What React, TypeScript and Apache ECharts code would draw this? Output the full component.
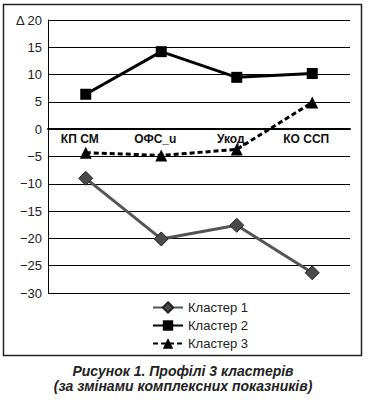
import React, { useEffect, useRef } from "react";
import * as echarts from "echarts";

const categories = ["КП СМ", "ОФС_u", "Укод", "КО ССП"];
const cluster1 = [-9.0, -20.1, -17.6, -26.3];
const cluster2 = [6.4, 14.2, 9.5, 10.2];
const cluster3 = [-4.3, -4.8, -3.7, 4.9];
const seriesNames = ["Кластер 1", "Кластер 2", "Кластер 3"];
const captionLines = ["Рисунок 1. Профілі 3 кластерів", "(за змінами комплексних показників)"];

const FONT = "'Liberation Sans', Arial, sans-serif";
const Y_MIN = -30;
const Y_MAX = 20;
const GRID_TOP = 20;
const GRID_H = 273;

export default function App() {
  const ref = useRef<HTMLDivElement>(null);
  useEffect(() => {
    if (!ref.current) return;
    const chart = echarts.init(ref.current, undefined, { renderer: "svg" });
    const zeroOffset = -(GRID_H * (0 - Y_MIN)) / (Y_MAX - Y_MIN);
    chart.setOption({
      animation: false,
      backgroundColor: "#fff",
      textStyle: { fontFamily: FONT },
      graphic: [
        {
          type: "rect",
          shape: { x: 3.5, y: 4.5, width: 358, height: 351 },
          style: { fill: "none", stroke: "#222", lineWidth: 1.5 },
          silent: true,
        },
        {
          type: "text",
          x: 183,
          y: 363,
          style: {
            text: captionLines.join("\n"),
            align: "center",
            verticalAlign: "top",
            fontFamily: FONT,
            fontStyle: "italic",
            fontWeight: "bold",
            fontSize: 14,
            lineHeight: 15,
            fill: "#222",
          },
          silent: true,
        },
      ],
      legend: {
        orient: "vertical",
        left: 147,
        top: 296,
        itemGap: 5,
        itemWidth: 30,
        itemHeight: 13,
        data: seriesNames,
        textStyle: { fontFamily: FONT, fontSize: 13, color: "#222" },
      },
      grid: { left: 48, top: GRID_TOP, width: 302, height: GRID_H },
      xAxis: {
        type: "category",
        data: categories,
        boundaryGap: true,
        offset: zeroOffset,
        axisLine: { show: true, onZero: false, lineStyle: { color: "#000", width: 2 } },
        axisTick: { show: false },
        axisLabel: {
          fontFamily: FONT,
          fontWeight: "bold",
          fontSize: 12,
          color: "#111",
          margin: 4,
          padding: [0, 12, 0, 0],
        },
      },
      yAxis: {
        type: "value",
        min: Y_MIN,
        max: Y_MAX,
        interval: 5,
        axisLine: { show: true, lineStyle: { color: "#000", width: 1 } },
        axisTick: { show: false },
        splitLine: { show: true, lineStyle: { color: "#000", width: 1 } },
        axisLabel: {
          fontFamily: FONT,
          fontSize: 13,
          color: "#222",
          margin: 6,
          formatter: (v: number) => {
            if (v === 20) return "Δ 20";
            if (v < 0) return "−" + Math.abs(v);
            return String(v);
          },
        },
      },
      series: [
        {
          name: seriesNames[0],
          type: "line",
          data: cluster1,
          symbol: "diamond",
          symbolSize: 14,
          lineStyle: { color: "#555", width: 3 },
          itemStyle: { color: "#4a4a4a", borderColor: "#222", borderWidth: 1 },
          z: 3,
        },
        {
          name: seriesNames[1],
          type: "line",
          data: cluster2,
          symbol: "rect",
          symbolSize: 11,
          lineStyle: { color: "#000", width: 3 },
          itemStyle: { color: "#000" },
          z: 3,
        },
        {
          name: seriesNames[2],
          type: "line",
          data: cluster3,
          symbol: "triangle",
          symbolSize: 12,
          lineStyle: { color: "#000", width: 3, type: [5, 3] },
          itemStyle: { color: "#000" },
          z: 3,
        },
      ],
    });
    return () => chart.dispose();
  }, []);
  return (
    <div
      ref={ref}
      style={{ position: "absolute", left: 0, top: 0, width: 366, height: 400 }}
    />
  );
}
